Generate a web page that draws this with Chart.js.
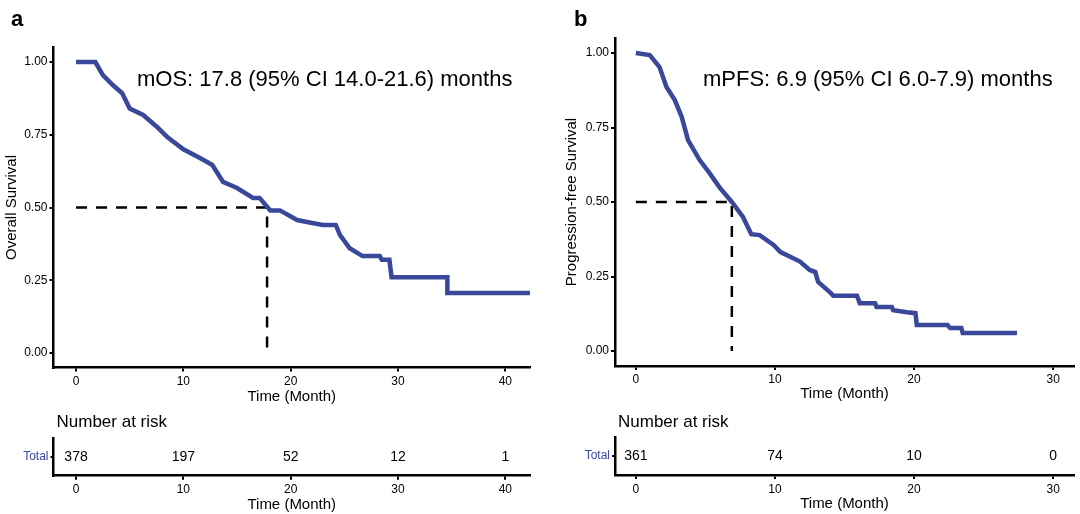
<!DOCTYPE html>
<html>
<head>
<meta charset="utf-8">
<script src="https://cdn.jsdelivr.net/npm/chart.js@4.4.1/dist/chart.umd.min.js"></script>
<style>
  body { margin: 0; background: #fff; }
  #wrap { position: relative; width: 1080px; height: 514px; overflow: hidden; }
  canvas { position: absolute; }
</style>
</head>
<body>
<div id="wrap">
  <canvas id="osChart" width="540" height="406" style="left:0;top:0"></canvas>
  <canvas id="pfsChart" width="540" height="403" style="left:540px;top:0"></canvas>
  <canvas id="osRisk" width="540" height="109" style="left:0;top:405px"></canvas>
  <canvas id="pfsRisk" width="540" height="108" style="left:540px;top:405px"></canvas>
</div>
<script>
// Overall survival (panel a)
const osTime = [0, 1.8, 2.5, 3.45, 4.3, 5.0, 6.25, 7.55, 8.5, 10.0, 11.55, 12.7, 13.7, 15.0, 16.5, 17.1, 18.1, 19.0, 20.6, 22.0, 23.0, 24.2, 24.6, 25.5, 26.7, 28.3, 28.5, 29.2, 29.4, 34.6, 34.6, 42.3];
const osSurv = [1.0, 1.0, 0.955, 0.92, 0.893, 0.84, 0.818, 0.777, 0.742, 0.70, 0.67, 0.646, 0.588, 0.567, 0.533, 0.533, 0.49, 0.49, 0.457, 0.447, 0.44, 0.44, 0.405, 0.36, 0.333, 0.333, 0.32, 0.32, 0.26, 0.26, 0.206, 0.206];
const osMedianX = [0, 17.8, 17.8];
const osMedianY = [0.5, 0.5, 0];

// Progression-free survival (panel b)
const pfsTime = [0, 1.0, 1.7, 2.2, 2.8, 3.3, 3.75, 4.6, 5.3, 6.0, 6.9, 7.7, 8.3, 8.9, 9.9, 10.4, 11.1, 11.8, 12.5, 12.9, 13.1, 14.0, 14.2, 15.9, 16.1, 17.2, 17.3, 18.4, 18.5, 19.5, 20.1, 20.2, 22.4, 22.6, 23.4, 23.5, 27.4];
const pfsSurv = [1.0, 0.993, 0.953, 0.886, 0.842, 0.785, 0.708, 0.64, 0.597, 0.55, 0.50, 0.45, 0.392, 0.389, 0.356, 0.332, 0.316, 0.30, 0.272, 0.265, 0.232, 0.195, 0.185, 0.185, 0.16, 0.16, 0.148, 0.148, 0.137, 0.13, 0.127, 0.087, 0.087, 0.077, 0.077, 0.06, 0.06];
const pfsMedianX = [0, 6.9, 6.9];
const pfsMedianY = [0.5, 0.5, 0];

// tick labels
const yTicks = [0, 0.25, 0.5, 0.75, 1];
const osXTicks = [0, 10, 20, 30, 40];
const pfsXTicks = [0, 10, 20, 30];

// number at risk
const osRiskTimes = [0, 10, 20, 30, 40];
const osRisk = [378, 197, 52, 12, 1];
const pfsRiskTimes = [0, 10, 20, 30];
const pfsRisk = [361, 74, 10, 0];

const curveColor = '#39489a';
const fontFamily = 'Arial, "Liberation Sans", sans-serif';

Chart.defaults.font.family = fontFamily;
Chart.defaults.color = '#000';

function toPoints(xs, ys) {
    return xs.map((x, i) => ({ x: x, y: ys[i] }));
}

// free text on the canvas (panel letters, median annotation, table heading)
const textPlugin = {
    id: 'panelText',
    afterDraw(chart, args, opts) {
        const ctx = chart.ctx;
        (opts.items || []).forEach(t => {
            ctx.save();
            ctx.font = t.font;
            ctx.fillStyle = t.color || '#000';
            ctx.textAlign = 'left';
            ctx.textBaseline = 'alphabetic';
            ctx.fillText(t.text, t.x, t.y);
            ctx.restore();
        });
    }
};

// risk numbers written at each point of the table dataset
const riskLabels = {
    id: 'riskLabels',
    afterDatasetsDraw(chart, args, opts) {
        const ctx = chart.ctx;
        const meta = chart.getDatasetMeta(0);
        ctx.save();
        ctx.font = '14px ' + fontFamily;
        ctx.fillStyle = '#000';
        ctx.textAlign = 'center';
        ctx.textBaseline = 'middle';
        meta.data.forEach((pt, i) => {
            ctx.fillText(String(opts.values[i]), pt.x, pt.y);
        });
        ctx.restore();
    }
};

function xAxis(min, max, ticks, height) {
    return {
        type: 'linear',
        min: min,
        max: max,
        afterBuildTicks: s => { s.ticks = ticks.map(v => ({ value: v })); },
        afterFit: s => { s.height = height; },
        border: { color: '#000', width: 2.5 },
        grid: { drawOnChartArea: false, color: '#000', lineWidth: 2, tickLength: 4 },
        ticks: { font: { size: 12 }, color: '#000', padding: 3, maxRotation: 0 },
        title: { display: true, text: 'Time (Month)', font: { size: 15 }, color: '#000', padding: { top: 0, bottom: 0 } }
    };
}

function kmChart(id, o) {
    return new Chart(document.getElementById(id), {
        type: 'line',
        data: {
            datasets: [{
                data: toPoints(o.time, o.surv),
                borderColor: curveColor,
                borderWidth: 4.5,
                borderJoinStyle: 'miter',
                pointRadius: 0,
                tension: 0
            }, {
                data: toPoints(o.medX, o.medY),
                borderColor: '#000',
                borderWidth: 2.5,
                borderDash: [11, 9],
                pointRadius: 0,
                tension: 0
            }]
        },
        options: {
            responsive: false,
            animation: false,
            layout: { padding: { top: o.padTop, right: o.padRight, left: 0, bottom: 0 } },
            plugins: {
                legend: { display: false },
                tooltip: { enabled: false },
                panelText: { items: o.texts }
            },
            scales: {
                x: xAxis(o.xMin, o.xMax, o.xTicks, o.xHeight),
                y: {
                    type: 'linear',
                    min: -0.05,
                    max: 1.05,
                    afterBuildTicks: s => { s.ticks = yTicks.map(v => ({ value: v })); },
                    afterFit: s => { s.width = o.yWidth; },
                    border: { color: '#000', width: 2.5 },
                    grid: { drawOnChartArea: false, color: '#000', lineWidth: 2, tickLength: 4 },
                    ticks: { font: { size: 12 }, color: '#000', padding: 2, callback: v => v.toFixed(2) },
                    title: { display: true, text: o.yTitle, font: { size: 15 }, color: '#000', padding: { top: o.yTitlePad, bottom: 0 } }
                }
            }
        },
        plugins: [textPlugin]
    });
}

function riskChart(id, o) {
    return new Chart(document.getElementById(id), {
        type: 'line',
        data: {
            datasets: [{
                data: o.times.map(t => ({ x: t, y: 0.5 })),
                showLine: false,
                pointRadius: 0
            }]
        },
        options: {
            responsive: false,
            animation: false,
            layout: { padding: { top: o.padTop, right: o.padRight, left: 0, bottom: 0 } },
            plugins: {
                legend: { display: false },
                tooltip: { enabled: false },
                riskLabels: { values: o.values },
                panelText: { items: [{ text: 'Number at risk', x: o.yWidth + 3, y: 22, font: '17px ' + fontFamily }] }
            },
            scales: {
                x: xAxis(o.xMin, o.xMax, o.xTicks, o.xHeight),
                y: {
                    type: 'linear',
                    min: 0,
                    max: 1,
                    afterBuildTicks: s => { s.ticks = [{ value: 0.5 }]; },
                    afterFit: s => { s.width = o.yWidth; },
                    border: { color: '#000', width: 2.5 },
                    grid: { drawOnChartArea: false, color: '#000', lineWidth: 2, tickLength: 3 },
                    ticks: { font: { size: 12 }, color: curveColor, padding: 2, callback: () => 'Total' }
                }
            }
        },
        plugins: [textPlugin, riskLabels]
    });
}

kmChart('osChart', {
    time: osTime, surv: osSurv, medX: osMedianX, medY: osMedianY,
    xMin: -2.1, xMax: 42.3, xTicks: osXTicks,
    padTop: 47.5, padRight: 10, yWidth: 53.5, xHeight: 38.5,
    yTitle: 'Overall Survival', yTitlePad: 3,
    texts: [
        { text: 'a', x: 11, y: 26, font: 'bold 22px ' + fontFamily },
        { text: 'mOS: 17.8 (95% CI 14.0-21.6) months', x: 137, y: 86, font: '22px ' + fontFamily }
    ]
});

kmChart('pfsChart', {
    time: pfsTime, surv: pfsSurv, medX: pfsMedianX, medY: pfsMedianY,
    xMin: -1.5, xMax: 31.5, xTicks: pfsXTicks,
    padTop: 38.1, padRight: 6, yWidth: 75, xHeight: 37.1,
    yTitle: 'Progression-free Survival', yTitlePad: 23,
    texts: [
        { text: 'b', x: 34, y: 26, font: 'bold 22px ' + fontFamily },
        { text: 'mPFS: 6.9 (95% CI 6.0-7.9) months', x: 163, y: 86, font: '22px ' + fontFamily }
    ]
});

riskChart('osRisk', {
    times: osRiskTimes, values: osRisk,
    xMin: -2.1, xMax: 42.3, xTicks: osXTicks,
    padTop: 33, padRight: 10, yWidth: 53.5, xHeight: 38.3
});

riskChart('pfsRisk', {
    times: pfsRiskTimes, values: pfsRisk,
    xMin: -1.5, xMax: 31.5, xTicks: pfsXTicks,
    padTop: 32, padRight: 6, yWidth: 75, xHeight: 38
});
</script>
</body>
</html>
